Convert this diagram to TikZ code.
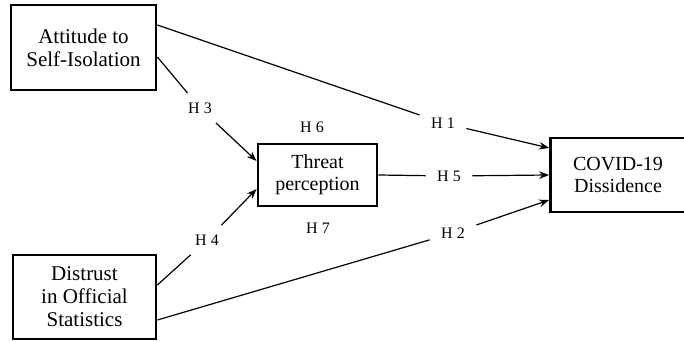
\documentclass[tikz,border=0pt]{standalone}
\usepackage{fontspec}
\setmainfont{Liberation Serif}
\usetikzlibrary{arrows.meta}

\tikzstyle{block} = [rectangle, draw, line width=2.8pt, text centered, align=center, font=\fontsize{21}{23}\selectfont]

\begin{document}
\begin{tikzpicture}[x=1pt, y=-1pt, >={Stealth[length=10pt,width=7.5pt]}, line width=1.2pt]
	\tikzstyle{hyp}=[inner xsep=11pt, inner ysep=9pt, font=\fontsize{16}{18}\selectfont]
	\tikzstyle{small}=[font=\fontsize{20}{22}\selectfont]
\useasboundingbox (0,0) rectangle (684,342);
  \node[block, minimum width=145pt, minimum height=85pt] (att) at (83.5,47.5) {Attitude to\\Self-Isolation};
  \node[block, minimum width=143pt, minimum height=84pt] (dis) at (84.5,297) {Distrust\\in Official\\Statistics};
  \node[block, small, minimum width=119pt, minimum height=62pt] (thr) at (317.5,175) {Threat\\perception};
  \node[block, small, minimum width=135pt, minimum height=74pt] (cov) at (618,175) {COVID-19\\Dissidence};
    \node[hyp] (h1) at (443,123) {H 1};
    \node[hyp] (h2) at (453,233) {H 2};
    \node[hyp] (h3) at (200,108) {H 3};
    \node[hyp] (h4) at (207,240) {H 4};
    \node[hyp] (h5) at (449,176) {H 5};
    \node[hyp] (h6) at (312,127) {H 6};
    \node[hyp] (h7) at (318,228) {H 7};
\draw ([yshift=22.5pt]att.east) -- (h1);
\draw[->] (h1) -- ([yshift=27pt]cov.west);
\draw ([yshift=-9.5pt]att.east) -- (h3);
\draw[->] (h3) -- ([yshift=14pt]thr.west);
\draw ([yshift=12pt]dis.east) -- (h4);
\draw[->] (h4) -- ([yshift=-14pt]thr.west);
\draw (thr.east) -- (h5);
\draw[->] (h5) -- (cov.west);
\draw ([yshift=-23pt]dis.east) -- (h2);
\draw[->] (h2) -- ([yshift=-25pt]cov.west);
\end{tikzpicture}
\end{document}
